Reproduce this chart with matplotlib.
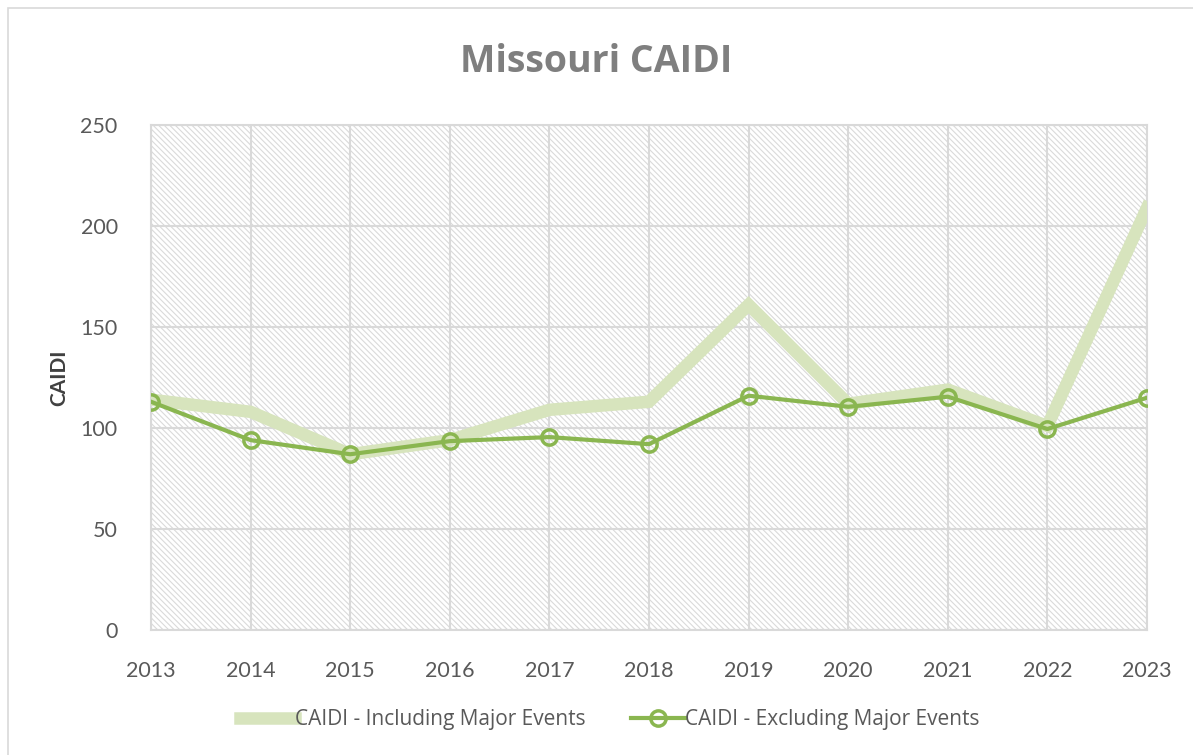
import matplotlib
matplotlib.use("Agg")
import matplotlib.pyplot as plt
from matplotlib.patches import Rectangle
import matplotlib as mpl

years = [2013, 2014, 2015, 2016, 2017, 2018, 2019, 2020, 2021, 2022, 2023]
including = [114, 108, 87, 94, 109, 113, 161, 112, 119, 101, 209]
excluding = [113, 94, 87, 93.5, 95.5, 92, 116, 110.5, 115.5, 99.5, 115]
yticks = [0, 50, 100, 150, 200, 250]

mpl.rcParams['hatch.linewidth'] = 0.8

fig = plt.figure(figsize=(11.93, 7.55), dpi=100)
fig.patches.append(Rectangle((8/1193, -0.01), 1.1, 1 - 8/755 + 0.01, transform=fig.transFigure,
                             fill=False, edgecolor='#d9d9d9', linewidth=1.2))
ax = fig.add_axes([151/1193, 1 - 630/755, (1147 - 151)/1193, (630 - 125)/755])
ax.patch.set_facecolor('white')
ax.add_patch(Rectangle((0, 0), 1, 1, transform=ax.transAxes, facecolor='white',
                       edgecolor='#dadada', hatch='\\\\\\\\\\\\', linewidth=0, zorder=0))

ax.plot(years, including, color='#d7e4bd', linewidth=9, solid_joinstyle='miter',
        label='CAIDI - Including Major Events', zorder=3)
ax.plot(years, excluding, color='#8ab650', linewidth=3, marker='o', markersize=11,
        markerfacecolor='none', markeredgewidth=2.5, markeredgecolor='#8ab650',
        label='CAIDI - Excluding Major Events', zorder=4)

ax.set_xlim(2013, 2023)
ax.set_ylim(0, 250)
ax.set_xticks(years)
ax.set_yticks(yticks)
ax.grid(True, color='#d9d9d9', linewidth=1.5, zorder=1)
ax.set_axisbelow(True)
for s in ax.spines.values():
    s.set_color('#d9d9d9')
    s.set_linewidth(1.5)
ax.tick_params(length=0, labelsize=15.5, labelcolor='#595959')
ax.tick_params(axis='x', pad=22)
ax.tick_params(axis='y', pad=24)
for lab in ax.get_xticklabels() + ax.get_yticklabels():
    lab.set_fontfamily('Lato')

ax.set_ylabel('CAIDI', fontsize=15, fontweight='bold', color='#404040', labelpad=8, fontfamily='Lato')
fig.text(0.5, 1 - 62/755, 'Missouri CAIDI', ha='center', va='center', fontsize=27,
         fontweight='bold', color='#7f7f7f', fontfamily='Open Sans')

leg = fig.legend(loc='center', bbox_to_anchor=(610/1193, 1 - 720/755), ncol=2, frameon=False,
                 prop={'family': 'Open Sans', 'size': 15}, labelcolor='#595959',
                 handlelength=2.6, handletextpad=0.0, columnspacing=2.2)

fig.savefig('out.png', dpi=100)
